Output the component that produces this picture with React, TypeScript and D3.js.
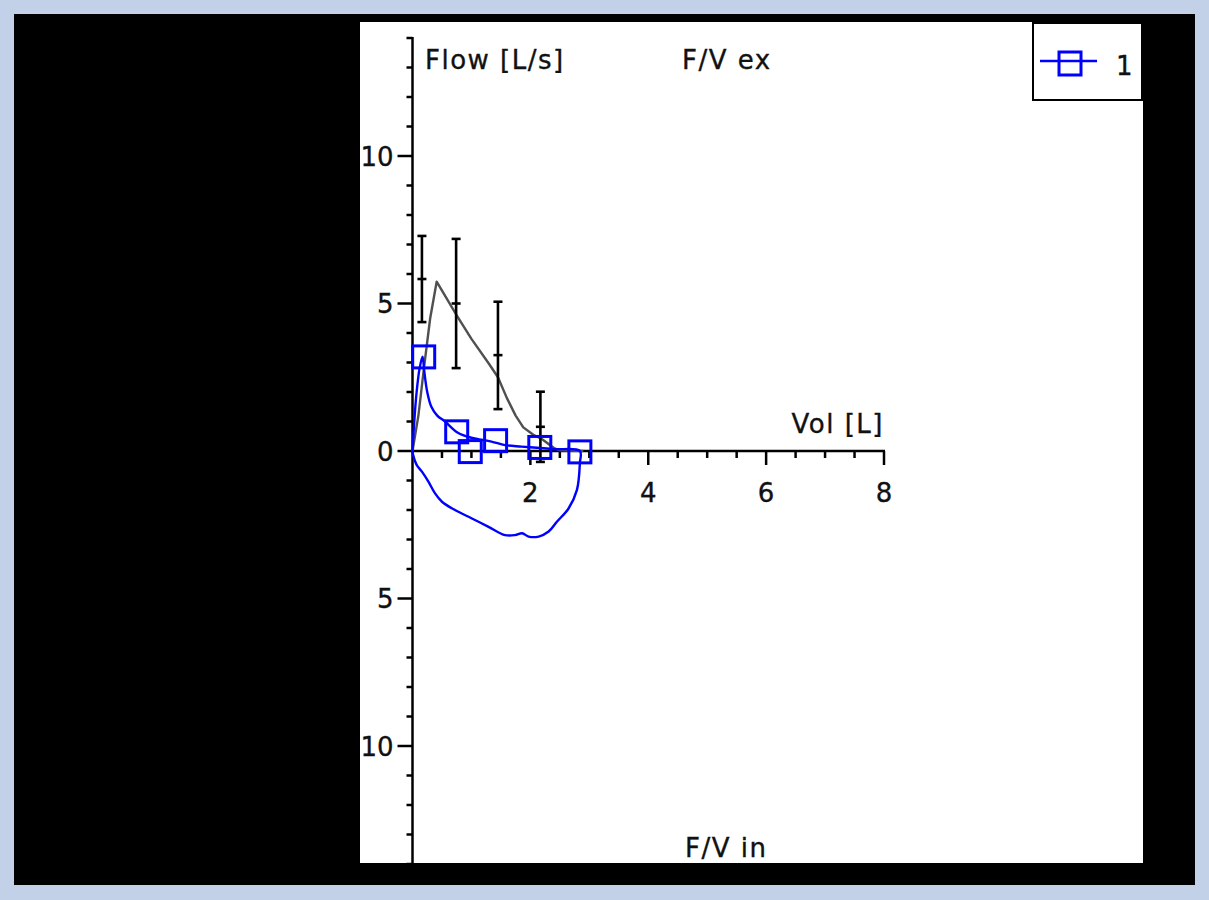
import React from "react";
import * as d3 from "d3";

// ---- data ----
const volTicks = [2, 4, 6, 8];
const flowTicks = [10, 5, 0, -5, -10];

// measured flow-volume loop (series "1")
const loopVol = [0, 0.03, 0.07, 0.12, 0.17, 0.2, 0.25, 0.32, 0.42, 0.55, 0.77, 1.0, 1.34, 1.57, 1.85, 2.17, 2.42, 2.84,
  2.84, 2.79, 2.65, 2.45, 2.31, 2.14, 1.97, 1.86, 1.74, 1.57, 1.29, 1.0, 0.72, 0.5, 0.38, 0.27, 0.16, 0.07, 0.01, 0];
const loopFlow = [0, 1.0, 2.0, 2.8, 3.2, 2.7, 2.0, 1.5, 1.2, 1.0, 0.62, 0.45, 0.32, 0.2, 0.15, 0.1, 0.06, 0,
  -0.4, -1.32, -1.94, -2.4, -2.73, -2.9, -2.9, -2.79, -2.85, -2.85, -2.57, -2.28, -2.0, -1.72, -1.43, -1.04, -0.7, -0.47, -0.13, 0];

// marker points on series "1"
const markerVol = [0.19, 0.75, 0.98, 1.41, 2.16, 2.84];
const markerFlow = [3.19, 0.65, -0.02, 0.35, 0.12, -0.03];

// predicted (reference) curve
const predVol = [0, 0.1, 0.2, 0.3, 0.41, 0.75, 1.0, 1.3, 1.45, 1.6, 1.75, 1.88, 2.05, 2.2, 2.4, 2.5, 2.9];
const predFlow = [0, 1.2, 2.9, 4.5, 5.74, 4.6, 3.8, 2.95, 2.5, 1.8, 1.2, 0.8, 0.55, 0.4, 0.1, 0.02, 0];

// predicted error bars
const errVol = [0.16, 0.74, 1.45, 2.17];
const errMid = [5.83, 5.0, 3.25, 0.82];
const errHi = [7.29, 7.19, 5.06, 2.01];
const errLo = [4.37, 2.81, 1.42, -0.37];

const legendLabels = ["1"];

// ---- component ----
export default function App() {
  const W = 1209, H = 900;
  const x = d3.scaleLinear().domain([0, 8]).range([412.5, 884]);
  const y = d3.scaleLinear().domain([-14, 14]).range([864, 38]);

  const font = "'DejaVu Sans', Verdana, sans-serif";
  const fs = 26;
  const ls = 1.5;
  const txt = { fontFamily: font, fontSize: fs, fill: "#111", stroke: "#111", strokeWidth: 0.35 };

  const loopLine = d3.line<number>().x((_, i) => x(loopVol[i])).y((_, i) => y(loopFlow[i])).curve(d3.curveCatmullRom.alpha(0.5));
  const predLine = d3.line<number>().x((_, i) => x(predVol[i])).y((_, i) => y(predFlow[i]));

  const minorY = d3.range(-14, 15, 1);
  const minorX = d3.range(0.5, 8.01, 0.5);
  const blue = "#0000ff";
  const sq = 22;

  return (
    <svg width={W} height={H} style={{ position: "absolute", left: 0, top: 0, display: "block" }}>
      <rect x={0} y={0} width={W} height={H} fill="#c2d1e8" />
      <rect x={14} y={14} width={1181} height={871} fill="#000" />
      <rect x={360} y={22} width={783} height={841} fill="#fff" />
      <clipPath id="plotclip"><rect x={360} y={22} width={783} height={841} /></clipPath>
      <g clipPath="url(#plotclip)">
        {/* y axis */}
        <line x1={x(0)} x2={x(0)} y1={y(14) - 1} y2={y(-14)} stroke="#000" strokeWidth={2.5} />
        {minorY.map((v) => (
          <line key={"my" + v} x1={x(0) - (v % 5 === 0 ? 15 : 6)} x2={x(0)} y1={y(v)} y2={y(v)} stroke="#000" strokeWidth={2.5} />
        ))}
        {flowTicks.map((v) => (
          <text key={"ty" + v} x={x(0) - 19} y={y(v) + 9.5} textAnchor="end" {...txt}>
            {Math.abs(v)}
          </text>
        ))}
        {/* x axis */}
        <line x1={x(0)} x2={x(8) + 1} y1={y(0)} y2={y(0)} stroke="#000" strokeWidth={2.5} />
        {minorX.map((v) => (
          <line key={"mx" + v} x1={x(v)} x2={x(v)} y1={y(0)} y2={y(0) + (v % 2 === 0 ? 14 : 7)} stroke="#000" strokeWidth={2.5} />
        ))}
        {volTicks.map((v) => (
          <text key={"tx" + v} x={x(v)} y={y(0) + 51} textAnchor="middle" {...txt}>
            {v}
          </text>
        ))}
        {/* axis titles */}
        <text x={425} y={69} letterSpacing={ls} {...txt}>Flow [L/s]</text>
        <text x={682} y={69} letterSpacing={ls} {...txt}>F/V ex</text>
        <text x={884} y={433} textAnchor="end" letterSpacing={ls} {...txt}>Vol [L]</text>
        <text x={685} y={857} letterSpacing={ls} {...txt}>F/V in</text>

        {/* predicted curve */}
        <path d={predLine(predVol) || ""} fill="none" stroke="#505050" strokeWidth={2.4} strokeLinejoin="round" />
        {/* error bars */}
        {errVol.map((v, i) => (
          <g key={"eb" + i} stroke="#000" strokeWidth={2.6}>
            <line x1={x(v)} x2={x(v)} y1={y(errHi[i])} y2={y(errLo[i])} />
            <line x1={x(v) - 4.5} x2={x(v) + 4.5} y1={y(errHi[i])} y2={y(errHi[i])} />
            <line x1={x(v) - 4.5} x2={x(v) + 4.5} y1={y(errLo[i])} y2={y(errLo[i])} />
            <line x1={x(v) - 4.5} x2={x(v) + 4.5} y1={y(errMid[i])} y2={y(errMid[i])} />
          </g>
        ))}

        {/* measured loop */}
        <path d={loopLine(loopVol) || ""} fill="none" stroke={blue} strokeWidth={2.4} strokeLinejoin="round" />
        {markerVol.map((v, i) => (
          <rect key={"m" + i} x={x(v) - sq / 2} y={y(markerFlow[i]) - sq / 2} width={sq} height={sq} fill="none" stroke={blue} strokeWidth={3} />
        ))}

        {/* legend */}
        <rect x={1033} y={23} width={109} height={77} fill="#fff" stroke="#000" strokeWidth={2} />
        {legendLabels.map((l, i) => (
          <g key={"lg" + i}>
            <line x1={1040} x2={1097} y1={61 + i * 30} y2={61 + i * 30} stroke={blue} strokeWidth={2.4} />
            <rect x={1059} y={52 + i * 30} width={22} height={23} fill="none" stroke={blue} strokeWidth={3} />
            <text x={1116} y={75 + i * 30} {...txt}>{l}</text>
          </g>
        ))}
      </g>
    </svg>
  );
}
